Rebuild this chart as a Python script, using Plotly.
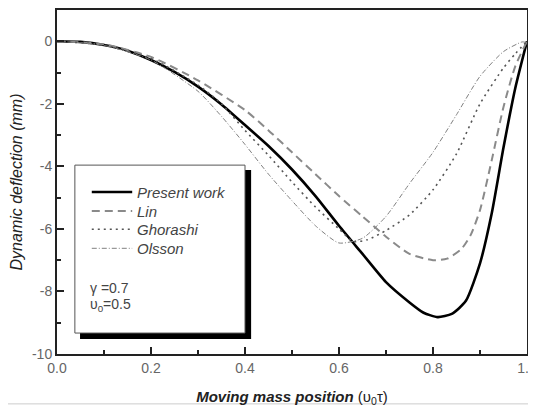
import plotly.graph_objects as go

# ---- data ----
present_x = [0, 0.05, 0.1, 0.15, 0.2, 0.25, 0.3, 0.35, 0.4, 0.45, 0.5, 0.55, 0.6, 0.65, 0.7, 0.75, 0.78, 0.81, 0.84, 0.87, 0.9, 0.925, 0.95, 0.975, 1.0]
present_y = [0, -0.02, -0.12, -0.3, -0.6, -0.98, -1.45, -2.02, -2.68, -3.35, -4.1, -4.95, -5.9, -6.8, -7.7, -8.35, -8.68, -8.82, -8.72, -8.3, -7.1, -5.5, -3.4, -1.5, 0]

lin_x = [0, 0.1, 0.2, 0.3, 0.4, 0.45, 0.5, 0.55, 0.6, 0.65, 0.7, 0.75, 0.8, 0.83, 0.86, 0.88, 0.9, 0.925, 0.95, 0.975, 1.0]
lin_y = [0, -0.1, -0.5, -1.25, -2.2, -2.85, -3.55, -4.25, -4.95, -5.6, -6.25, -6.8, -7.0, -6.95, -6.65, -6.2, -5.4, -3.8, -2.1, -0.8, 0]

ghorashi_x = [0, 0.1, 0.2, 0.3, 0.35, 0.4, 0.45, 0.5, 0.55, 0.6, 0.63, 0.66, 0.7, 0.75, 0.8, 0.85, 0.9, 0.95, 0.975, 1.0]
ghorashi_y = [0, -0.12, -0.55, -1.4, -2.0, -2.85, -3.65, -4.5, -5.3, -6.0, -6.4, -6.35, -6.05, -5.55, -4.75, -3.6, -2.0, -0.85, -0.4, 0]

olsson_x = [0, 0.1, 0.2, 0.3, 0.35, 0.4, 0.45, 0.5, 0.55, 0.6, 0.65, 0.7, 0.75, 0.8, 0.85, 0.9, 0.95, 0.99, 1.0]
olsson_y = [0, -0.13, -0.6, -1.6, -2.4, -3.3, -4.25, -5.1, -5.9, -6.45, -6.3, -5.6, -4.55, -3.55, -2.35, -1.12, -0.33, -0.02, -0.05]

x_ticks = [0.0, 0.2, 0.4, 0.6, 0.8, 1.0]
x_tick_labels = ["0.0", "0.2", "0.4", "0.6", "0.8", "1.0"]
y_ticks = [0, -2, -4, -6, -8, -10]
y_tick_labels = ["0", "-2", "-4", "-6", "-8", "-10"]

series_names = ["Present work", "Lin", "Ghorashi", "Olsson"]

FONT = "Liberation Sans, Arial, sans-serif"

styles = [
    dict(color="#000000", width=2.6, dash="solid"),
    dict(color="#8a8a8a", width=2.0, dash="8px,5px"),
    dict(color="#555555", width=1.6, dash="2px,4px"),
    dict(color="#808080", width=1.0, dash="5px,2px,1px,2px"),
]

fig = go.Figure()
for (xs, ys), name, st in zip(
    [(present_x, present_y), (lin_x, lin_y), (ghorashi_x, ghorashi_y), (olsson_x, olsson_y)],
    series_names, styles):
    fig.add_trace(go.Scatter(x=xs, y=ys, mode="lines", name=name,
                             line=dict(color=st["color"], width=st["width"], dash=st["dash"],
                                       shape="spline", smoothing=0.6),
                             showlegend=False))

# ---- hand-drawn legend box with shadow (data coordinates) ----
shapes = []
shapes.append(dict(type="rect", xref="x", yref="y", x0=0.049, x1=0.413, y0=-4.12, y1=-9.52,
                   fillcolor="#000000", line=dict(width=0), layer="above"))
shapes.append(dict(type="rect", xref="x", yref="y", x0=0.038, x1=0.400, y0=-3.96, y1=-9.33,
                   fillcolor="#ffffff", line=dict(color="#555555", width=1), layer="above"))

row_y = [-4.82, -5.43, -6.01, -6.62]
annotations = []
for name, st, ry in zip(series_names, styles, row_y):
    shapes.append(dict(type="line", xref="x", yref="y", x0=0.074, x1=0.160, y0=ry, y1=ry,
                       line=dict(color=st["color"], width=st["width"], dash=st["dash"]), layer="above"))
    annotations.append(dict(x=0.166, y=ry, xref="x", yref="y", text="<i>" + name + "</i>",
                            showarrow=False, xanchor="left", yanchor="middle",
                            font=dict(family=FONT, size=15, color="#444444")))

annotations.append(dict(x=0.066, y=-7.88, xref="x", yref="y", text="γ =0.7",
                        showarrow=False, xanchor="left", yanchor="middle",
                        font=dict(family=FONT, size=14, color="#444444")))
annotations.append(dict(x=0.066, y=-8.42, xref="x", yref="y", text="υ<sub>0</sub>=0.5",
                        showarrow=False, xanchor="left", yanchor="middle",
                        font=dict(family=FONT, size=14, color="#444444")))

# faint image border
shapes.append(dict(type="line", xref="paper", yref="paper", x0=1.0149, x1=1.0149, y0=-0.145, y1=1.01,
                   line=dict(color="#cccccc", width=1)))
shapes.append(dict(type="line", xref="paper", yref="paper", x0=-0.11, x1=1.0149, y0=-0.145, y1=-0.145,
                   line=dict(color="#cccccc", width=1)))

# the page body adds an 8px offset, so margins are shifted to land on the 536x408 frame
fig.update_layout(
    width=536, height=408,
    margin=dict(l=49, r=17, t=2, b=62, autoexpand=False),
    plot_bgcolor="white", paper_bgcolor="white",
    font=dict(family=FONT, color="#555555", size=14),
    shapes=shapes, annotations=annotations,
    xaxis=dict(range=[0, 1], tickvals=x_ticks, ticktext=x_tick_labels, automargin=False,
               showgrid=False, zeroline=False, showline=True, linecolor="#222222", linewidth=2,
               mirror=True, ticks="inside", ticklen=7, tickwidth=1.5, tickcolor="#222222",
               minor=dict(dtick=0.1, ticks="inside", ticklen=4, tickwidth=1.5, tickcolor="#222222", showgrid=False),
               tickfont=dict(family=FONT, size=14, color="#666666"),
               title=dict(text="<b><i>Moving mass position</i></b> (υ<sub>0</sub>τ)", standoff=17,
                          font=dict(family=FONT, size=15, color="#222222"))),
    yaxis=dict(range=[-10, 1], tickvals=y_ticks, ticktext=y_tick_labels, automargin=False,
               showgrid=False, zeroline=False, showline=True, linecolor="#222222", linewidth=2,
               mirror=True, ticks="inside", ticklen=7, tickwidth=1.5, tickcolor="#222222",
               minor=dict(dtick=1, ticks="inside", ticklen=4, tickwidth=1.5, tickcolor="#222222", showgrid=False),
               tickfont=dict(family=FONT, size=14, color="#666666"),
               title=dict(text="<i>Dynamic deflection (mm)</i>", standoff=6,
                          font=dict(family=FONT, size=16, color="#222222"))),
)

fig.write_html("out.html")
